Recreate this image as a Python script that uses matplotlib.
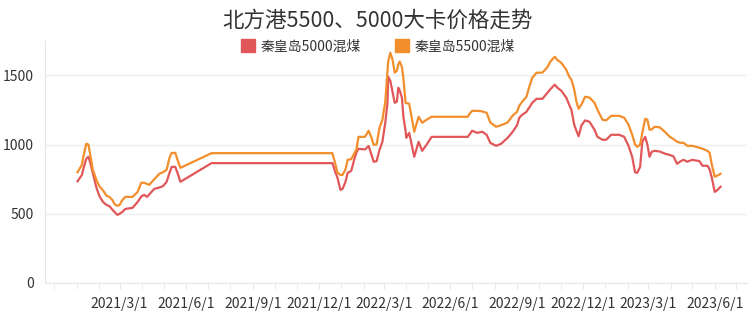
import matplotlib
matplotlib.use("Agg")
import matplotlib.pyplot as plt
import matplotlib.dates as mdates
import matplotlib.patches as mpatches
import pandas as pd

plt.rcParams['font.family'] = ['Noto Sans CJK SC', 'DejaVu Sans']

dates = [
    "2021-01-02", "2021-01-08", "2021-01-10", "2021-01-14", "2021-01-17", "2021-01-20",
    "2021-01-23", "2021-01-28", "2021-02-01", "2021-02-06", "2021-02-11", "2021-02-15",
    "2021-02-19", "2021-02-22", "2021-02-26", "2021-03-01", "2021-03-05", "2021-03-09",
    "2021-03-19", "2021-03-26", "2021-03-31", "2021-04-04", "2021-04-08", "2021-04-11",
    "2021-04-18", "2021-04-25", "2021-04-30", "2021-05-05", "2021-05-09", "2021-05-12",
    "2021-05-17", "2021-05-20", "2021-05-24", "2021-07-06", "2021-12-20", "2021-12-24",
    "2021-12-27", "2021-12-31", "2022-01-03", "2022-01-07", "2022-01-10", "2022-01-15",
    "2022-01-19", "2022-01-22", "2022-01-25", "2022-02-03", "2022-02-08", "2022-02-12",
    "2022-02-15", "2022-02-19", "2022-02-23", "2022-02-27", "2022-03-03", "2022-03-06",
    "2022-03-07", "2022-03-10", "2022-03-13", "2022-03-16", "2022-03-19", "2022-03-21",
    "2022-03-23", "2022-03-26", "2022-03-28", "2022-03-31", "2022-04-01", "2022-04-05",
    "2022-04-12", "2022-04-18", "2022-04-23", "2022-04-29", "2022-05-06", "2022-06-25",
    "2022-06-27", "2022-07-01", "2022-07-08", "2022-07-15", "2022-07-21", "2022-07-26",
    "2022-08-03", "2022-08-10", "2022-08-19", "2022-08-26", "2022-09-01", "2022-09-04",
    "2022-09-08", "2022-09-14", "2022-09-18", "2022-09-22", "2022-09-28", "2022-10-06",
    "2022-10-13", "2022-10-17", "2022-10-23", "2022-10-27", "2022-11-01", "2022-11-08",
    "2022-11-12", "2022-11-15", "2022-11-19", "2022-11-22", "2022-11-25", "2022-11-29",
    "2022-12-04", "2022-12-10", "2022-12-17", "2022-12-21", "2022-12-28", "2023-01-02",
    "2023-01-09", "2023-01-20", "2023-01-27", "2023-02-02", "2023-02-07", "2023-02-11",
    "2023-02-14", "2023-02-18", "2023-02-21", "2023-02-25", "2023-02-28", "2023-03-03",
    "2023-03-06", "2023-03-10", "2023-03-17", "2023-03-24", "2023-03-31", "2023-04-05",
    "2023-04-10", "2023-04-15", "2023-04-19", "2023-04-24", "2023-05-01", "2023-05-11",
    "2023-05-15", "2023-05-22", "2023-05-25", "2023-05-28", "2023-06-01", "2023-06-05",
    "2023-06-09",
]

qhd_5000 = [
    735, 781, 825, 897, 912, 860, 795, 690, 630, 586, 564, 555,
    530, 514, 492, 500, 514, 535, 543, 586, 625, 637, 622, 640,
    680, 690, 700, 731, 796, 839, 839, 796, 731, 866, 866, 800,
    760, 673, 680, 731, 796, 810, 890, 940, 970, 965, 990, 926,
    876, 880, 962, 1020, 1158, 1300, 1491, 1460, 1380, 1302, 1310, 1411,
    1390, 1339, 1201, 1100, 1049, 1085, 912, 1020, 955, 999, 1056, 1056,
    1071, 1100, 1085, 1093, 1071, 1013, 991, 1006, 1049, 1093, 1140, 1194,
    1215, 1237, 1270, 1302, 1331, 1331, 1375, 1400, 1433, 1410, 1390, 1339,
    1288, 1252, 1143, 1100, 1060, 1140, 1175, 1165, 1107, 1056, 1035, 1035,
    1071, 1071, 1056, 990, 912, 800, 796, 840, 1020, 1056, 1000, 912,
    948, 955, 950, 935, 925, 915, 861, 880, 890, 876, 890, 880,
    847, 847, 820, 760, 658, 673, 695,
]

qhd_5500 = [
    800, 854, 912, 1006, 1000, 912, 818, 745, 700, 670, 630, 622,
    600, 570, 557, 564, 600, 622, 622, 658, 724, 724, 715, 709,
    750, 789, 800, 818, 905, 940, 940, 890, 832, 938, 938, 860,
    796, 781, 781, 820, 890, 895, 935, 962, 1056, 1056, 1100, 1049,
    999, 1000, 1122, 1180, 1310, 1527, 1600, 1664, 1614, 1520, 1534, 1580,
    1600, 1560, 1480, 1302, 1300, 1295, 1093, 1201, 1158, 1180, 1201, 1201,
    1220, 1244, 1244, 1240, 1230, 1160, 1129, 1140, 1160, 1210, 1237, 1280,
    1310, 1346, 1420, 1483, 1520, 1520, 1560, 1600, 1635, 1610, 1592, 1541,
    1491, 1469, 1397, 1310, 1259, 1290, 1346, 1340, 1302, 1252, 1180, 1175,
    1208, 1208, 1194, 1143, 1071, 1000, 984, 1000, 1085, 1187, 1180, 1107,
    1110, 1129, 1125, 1093, 1056, 1040, 1020, 1013, 1013, 991, 991, 977,
    970, 955, 940, 854, 767, 777, 789,
]

tick_dates = ["2021-03-01", "2021-06-01", "2021-09-01", "2021-12-01", "2022-03-01",
              "2022-06-01", "2022-09-01", "2022-12-01", "2023-03-01", "2023-06-01"]
tick_labels = ["2021/3/1", "2021/6/1", "2021/9/1", "2021/12/1", "2022/3/1",
               "2022/6/1", "2022/9/1", "2022/12/1", "2023/3/1", "2023/6/1"]

x = pd.to_datetime(dates)
red = "#E15759"
orange = "#F28E2B"

fig = plt.figure(figsize=(7.56, 3.19), dpi=100)
ax = fig.add_axes([0.0595, 0.113, 0.929, 0.759])

ax.plot(x, qhd_5000, color=red, lw=1.6)
ax.plot(x, qhd_5500, color=orange, lw=1.6)

ax.set_ylim(0, 1750)
ax.set_yticks([0, 500, 1000, 1500])
ax.set_xlim(pd.Timestamp("2020-11-18"), pd.Timestamp("2023-07-16"))

ax.set_xticks(pd.to_datetime(tick_dates))
ax.set_xticklabels(tick_labels)
ax.xaxis.set_minor_locator(mdates.MonthLocator())

ax.grid(axis="y", color="#EEEEEE", lw=1)
ax.set_axisbelow(True)
for s in ["top", "right"]:
    ax.spines[s].set_visible(False)
for s in ["left", "bottom"]:
    ax.spines[s].set_color("#E6E6E6")
ax.tick_params(axis="y", length=0, pad=8, labelsize=10, labelcolor="#333333")
ax.tick_params(axis="x", which="major", length=4, color="#E6E6E6", pad=6,
               labelsize=10, labelcolor="#333333")
ax.tick_params(axis="x", which="minor", length=4, color="#E6E6E6")

fig.text(0.5, 0.935, "北方港5500、5000大卡价格走势", ha="center", va="center",
         fontsize=15.5, color="#333333")

handles = [mpatches.Patch(color=red, label="秦皇岛5000混煤"),
           mpatches.Patch(color=orange, label="秦皇岛5500混煤")]
fig.legend(handles=handles, loc="center", bbox_to_anchor=(0.5, 0.855), ncol=2,
           frameon=False, fontsize=10, handlelength=1.0, handleheight=1.0,
           handletextpad=0.4, columnspacing=2.5, labelcolor="#333333")

fig.savefig("out.png", dpi=100)
